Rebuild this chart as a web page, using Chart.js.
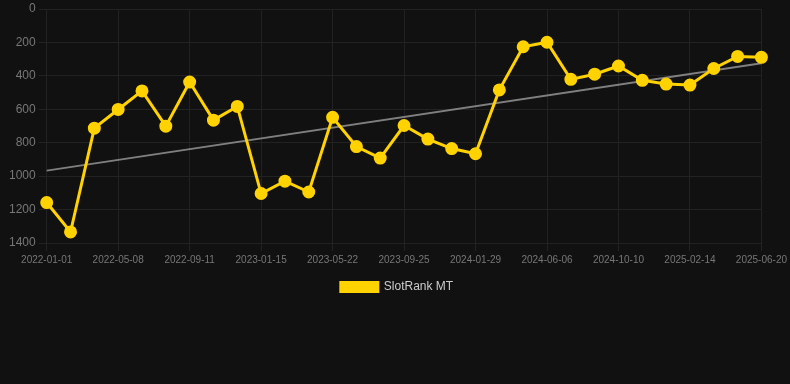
<!DOCTYPE html>
<html>
<head>
<meta charset="utf-8">
<script src="https://cdn.jsdelivr.net/npm/chart.js@4"></script>
<style>
  html, body { margin: 0; padding: 0; background: #111111; }
  #wrap { width: 790px; height: 303px; }
</style>
</head>
<body>
<div id="wrap"><canvas id="rankChart"></canvas></div>
<script>
const dates = [
  "2022-01-01", "2022-02-12", "2022-03-26", "2022-05-08", "2022-06-19", "2022-07-31",
  "2022-09-11", "2022-10-23", "2022-12-04", "2023-01-15", "2023-02-26", "2023-04-09",
  "2023-05-22", "2023-07-03", "2023-08-14", "2023-09-25", "2023-11-06", "2023-12-18",
  "2024-01-29", "2024-03-11", "2024-04-24", "2024-06-06", "2024-07-18", "2024-08-29",
  "2024-10-10", "2024-11-21", "2025-01-02", "2025-02-14", "2025-03-28", "2025-05-09",
  "2025-06-20",
];

const slotRank = [
  1158, 1334, 713, 601, 490, 701, 437, 665, 583, 1104, 1030, 1095, 648, 823, 892,
  697, 778, 835, 866, 484, 226, 199, 421, 390, 341, 427, 449, 455, 356, 284, 289,
];

// trend line, start and end only
const trendEnds = [967, 325];

const trendData = dates.map((d, i) => {
  if (i === 0) return trendEnds[0];
  if (i === dates.length - 1) return trendEnds[1];
  return null;
});

const ctx = document.getElementById("rankChart");

new Chart(ctx, {
  type: "line",
  data: {
    labels: dates,
    datasets: [
      {
        label: "SlotRank MT",
        data: slotRank,
        borderColor: "#FFD200",
        backgroundColor: "#FFD200",
        borderWidth: 3,
        pointRadius: 5,
        pointHoverRadius: 6,
        tension: 0,
      },
      {
        label: "trend",
        data: trendData,
        borderColor: "rgba(140,140,140,0.9)",
        borderWidth: 2,
        pointRadius: 0,
        spanGaps: true,
      },
    ],
  },
  options: {
    responsive: true,
    maintainAspectRatio: false,
    animation: false,
    layout: { padding: { left: 6, right: 2 } },
    plugins: {
      legend: {
        position: "bottom",
        labels: {
          color: "#cccccc",
          font: { family: "Arial, 'Liberation Sans'", size: 12 },
          boxWidth: 37,
          boxHeight: 9,
          padding: 12,
          filter: (item) => item.text !== "trend",
        },
      },
      tooltip: { enabled: false },
    },
    scales: {
      x: {
        grid: { color: "#222222" },
        border: { color: "#222222" },
        ticks: {
          color: "#777777",
          font: { family: "Arial, 'Liberation Sans'", size: 10 },
          autoSkip: false,
          maxRotation: 0,
          callback: function (value, index) {
            return index % 3 === 0 ? this.getLabelForValue(value) : null;
          },
        },
      },
      y: {
        reverse: true,
        min: 0,
        max: 1400,
        grid: { color: "#222222" },
        border: { display: false },
        ticks: {
          stepSize: 200,
          color: "#777777",
          font: { family: "Arial, 'Liberation Sans'", size: 12, lineHeight: 0.6 },
          callback: (v) => String(v),
        },
      },
    },
  },
});
</script>
</body>
</html>
